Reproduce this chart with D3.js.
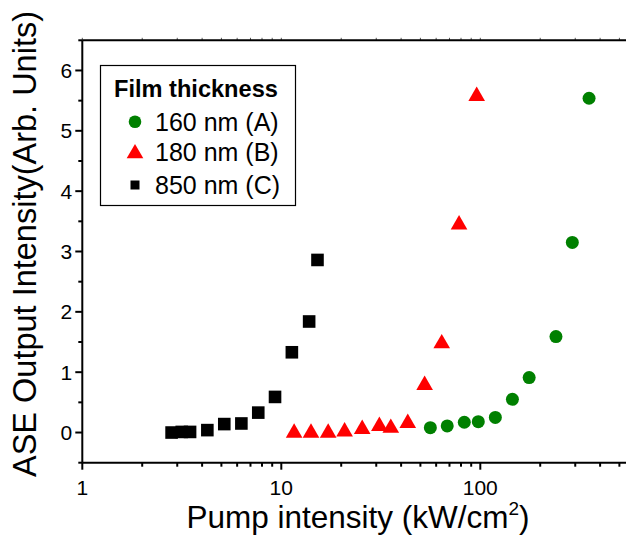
<!DOCTYPE html>
<html><head><meta charset="utf-8">
<script src="https://cdn.jsdelivr.net/npm/d3@7"></script>
<style>body{margin:0;background:#fff}svg{display:block}text{font-family:"Liberation Sans",Arial,sans-serif}</style>
</head><body><svg id="c" width="626" height="540"></svg>
<script>
// Data
const xA = [56.1, 68.2, 83.1, 97.7, 119, 145, 176, 240, 290, 352];
const yA = [0.08, 0.11, 0.17, 0.18, 0.25, 0.55, 0.91, 1.59, 3.15, 5.54];
const xB = [11.6, 14.1, 17.2, 20.8, 25.5, 31.1, 35.5, 43.2, 52.5, 64, 78.2, 95.9];
const yB = [0.02, 0.02, 0.02, 0.04, 0.08, 0.13, 0.1, 0.18, 0.81, 1.5, 3.47, 5.6];
const xC = [2.81, 3.16, 3.48, 4.25, 5.17, 6.30, 7.66, 9.30, 11.3, 13.8, 15.2];
const yC = [0, 0.01, 0.01, 0.04, 0.14, 0.15, 0.33, 0.59, 1.33, 1.84, 2.86];
const seriesNames = ["160 nm (A)", "180 nm (B)", "850 nm (C)"];
const legendTitle = "Film thickness";
const xTickLabels = [1, 10, 100];
const yTickLabels = [0, 1, 2, 3, 4, 5, 6];

const svg = d3.select("#c");
const L = 82.3, T = 40.3, B = 462.7;
const x = d3.scaleLog().domain([1, 700]).range([L, L + 199 * Math.log10(700)]);
const y = d3.scaleLinear().domain([-0.5, 6.5]).range([B, T]);

// minor ticks
const xMinor = [];
for (const d of [1, 10, 100]) for (let k = 2; k <= 9; k++) if (d * k <= 700) xMinor.push(d * k);
const yMinor = d3.range(-0.5, 6.6, 1);

// bottom axis
const gB = svg.append("g");
gB.selectAll("line.maj").data(xTickLabels).join("line")
  .attr("x1", d => x(d)).attr("x2", d => x(d)).attr("y1", B).attr("y2", B + 7)
  .attr("stroke", "#000").attr("stroke-width", 2);
gB.selectAll("line.min").data(xMinor).join("line").attr("class","min")
  .attr("x1", d => x(d)).attr("x2", d => x(d)).attr("y1", B).attr("y2", B + 4)
  .attr("stroke", "#000").attr("stroke-width", 2);
gB.selectAll("text").data(xTickLabels).join("text")
  .attr("x", d => x(d)).attr("y", B + 32).attr("text-anchor", "middle")
  .attr("font-size", 21).text(d => d);

// top axis small ticks
const gT = svg.append("g");
gT.selectAll("line").data(xTickLabels.concat(xMinor)).join("line")
  .attr("x1", d => x(d)).attr("x2", d => x(d)).attr("y1", T).attr("y2", T - 2.5)
  .attr("stroke", "#555").attr("stroke-width", 1);

// left axis
const gL = svg.append("g");
gL.selectAll("line.maj").data(yTickLabels).join("line").attr("class","maj")
  .attr("x1", L - 7).attr("x2", L).attr("y1", d => y(d)).attr("y2", d => y(d))
  .attr("stroke", "#000").attr("stroke-width", 2);
gL.selectAll("line.min").data(yMinor).join("line").attr("class","min")
  .attr("x1", L - 4).attr("x2", L).attr("y1", d => y(d)).attr("y2", d => y(d))
  .attr("stroke", "#000").attr("stroke-width", 2);
gL.selectAll("text").data(yTickLabels).join("text")
  .attr("x", L - 10).attr("y", d => y(d)).attr("dy", "0.36em").attr("text-anchor", "end")
  .attr("font-size", 21).text(d => d);

// frame lines
svg.append("line").attr("x1", L).attr("x2", L).attr("y1", T).attr("y2", B).attr("stroke", "#000").attr("stroke-width", 2);
svg.append("line").attr("x1", L).attr("x2", 640).attr("y1", B).attr("y2", B).attr("stroke", "#000").attr("stroke-width", 2);
svg.append("line").attr("x1", L).attr("x2", 640).attr("y1", T).attr("y2", T).attr("stroke", "#000").attr("stroke-width", 2);

// data
const green = "#008000", red = "#ff0000";
const tri = d3.symbol().type(d3.symbolTriangle).size(120);
svg.append("g").selectAll("rect").data(xC.map((v, i) => [v, yC[i]])).join("rect")
  .attr("x", d => x(d[0]) - 6.3).attr("y", d => y(d[1]) - 6.3).attr("width", 12.6).attr("height", 12.6).attr("fill", "#000");
svg.append("g").selectAll("path").data(xB.map((v, i) => [v, yB[i]])).join("path")
  .attr("d", tri).attr("transform", d => `translate(${x(d[0])},${y(d[1])+1.5})`).attr("fill", red);
svg.append("g").selectAll("circle").data(xA.map((v, i) => [v, yA[i]])).join("circle")
  .attr("cx", d => x(d[0])).attr("cy", d => y(d[1])).attr("r", 6.5).attr("fill", green);

// legend
const lg = svg.append("g");
lg.append("rect").attr("x", 100.5).attr("y", 65.5).attr("width", 195).attr("height", 140)
  .attr("fill", "#fff").attr("stroke", "#000").attr("stroke-width", 1.2);
lg.append("text").attr("x", 114).attr("y", 97).attr("font-size", 23.6).attr("font-weight", "bold").text(legendTitle);
const rows = [121.7, 152, 185];
lg.append("circle").attr("cx", 135).attr("cy", rows[0]).attr("r", 6.3).attr("fill", green);
lg.append("path").attr("d", tri).attr("transform", `translate(135,${rows[1]+1.5})`).attr("fill", red);
lg.append("rect").attr("x", 135 - 4.5).attr("y", rows[2] - 4.5).attr("width", 9).attr("height", 9).attr("fill", "#000");
lg.selectAll("text.e").data(seriesNames).join("text").attr("class","e")
  .attr("x", 155).attr("y", (d, i) => rows[i]).attr("dy", "0.36em").attr("font-size", 25).text(d => d);

// axis titles
const xt = svg.append("text").attr("x", 358).attr("y", 528).attr("text-anchor", "middle").attr("font-size", 31.5);
xt.append("tspan").text("Pump intensity (kW/cm");
xt.append("tspan").attr("font-size", 19).attr("dy", -13).text("2");
xt.append("tspan").attr("dy", 13).text(")");
svg.append("text").attr("transform", "translate(36,244) rotate(-90)").attr("text-anchor", "middle")
  .attr("font-size", 32.5).text("ASE Output Intensity(Arb. Units)");
</script></body></html>
